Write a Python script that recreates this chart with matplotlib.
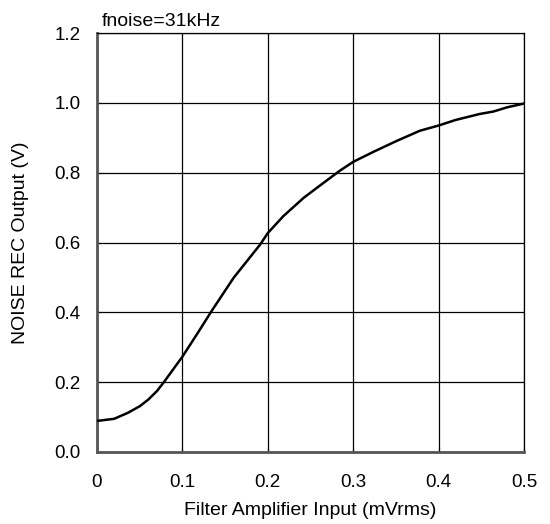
import matplotlib
matplotlib.use("Agg")
import matplotlib.pyplot as plt

# Curve
inputMv = [0.0, 0.020, 0.036, 0.050, 0.060, 0.070, 0.078, 0.100, 0.118, 0.134, 0.160, 0.191, 0.200,
           0.218, 0.242, 0.261, 0.284, 0.300, 0.324, 0.351, 0.378, 0.400, 0.420, 0.448, 0.464,
           0.480, 0.500]
outputV = [0.089, 0.095, 0.112, 0.131, 0.150, 0.174, 0.199, 0.273, 0.341, 0.403, 0.499, 0.594, 0.627,
           0.675, 0.728, 0.763, 0.805, 0.831, 0.860, 0.891, 0.920, 0.935, 0.951, 0.968, 0.975,
           0.987, 0.998]

xTicks = [0, 0.1, 0.2, 0.3, 0.4, 0.5]
xTickLabels = ["0", "0.1", "0.2", "0.3", "0.4", "0.5"]
yTicks = [0.0, 0.2, 0.4, 0.6, 0.8, 1.0, 1.2]
yTickLabels = ["0.0", "0.2", "0.4", "0.6", "0.8", "1.0", "1.2"]

plt.rcParams['font.family'] = ['Liberation Sans', 'DejaVu Sans']

fig = plt.figure(figsize=(5.5, 5.24), dpi=100)
ax = fig.add_axes([97/550, 1-452/524, 427/550, 419/524])

ax.plot(inputMv, outputV, color='black', lw=1.8, zorder=3)

ax.set_xlim(0, 0.5)
ax.set_ylim(0, 1.2)
ax.set_xticks(xTicks)
ax.set_xticklabels(xTickLabels)
ax.set_yticks(yTicks)
ax.set_yticklabels(yTickLabels)
ax.grid(True, color='black', lw=0.9)
ax.tick_params(direction='in', length=3, labelsize=13.5, color='black')
ax.tick_params(axis='x', pad=16)
ax.tick_params(axis='y', pad=12)
for side in ['bottom', 'left']:
	ax.spines[side].set_color('#555555')
	ax.spines[side].set_linewidth(2)
for side in ['top', 'right']:
	ax.spines[side].set_color('black')
	ax.spines[side].set_linewidth(0.9)

ax.set_xlabel('Filter Amplifier Input (mVrms)', fontsize=14, labelpad=8)
ax.set_ylabel('NOISE REC Output (V)', fontsize=14, labelpad=18)
ax.text(0.005, 1.22, 'fnoise=31kHz', fontsize=14, ha='left', va='baseline')

fig.savefig("out.png", dpi=100)
